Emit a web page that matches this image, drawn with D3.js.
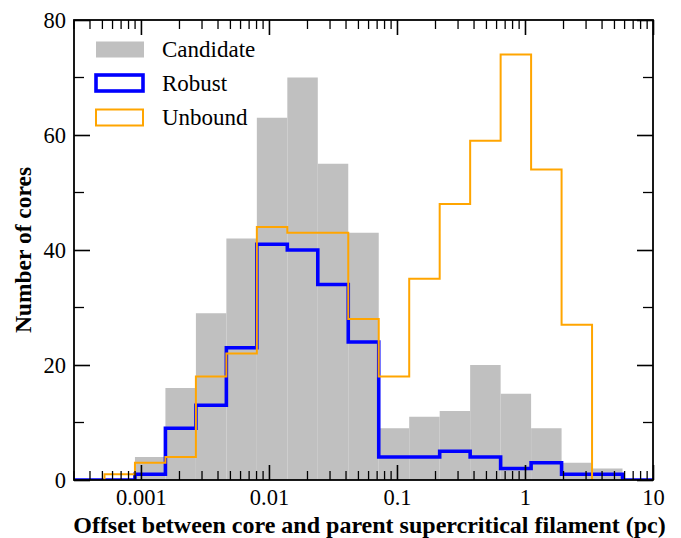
<!DOCTYPE html>
<html>
<head>
<meta charset="utf-8">
<script src="https://cdn.jsdelivr.net/npm/d3@7"></script>
<style>
  body { margin: 0; background: #fff; }
  svg { display: block; font-family: "Liberation Serif", "Times New Roman", serif; }
  svg text { font-family: "Liberation Serif", "Times New Roman", serif; }
</style>
</head>
<body>
<svg width="681" height="538"></svg>
<script>
// histogram edges: 19 log-spaced bins from 3e-4 pc to 10 pc
const binRange = [3e-4, 10];
const nBins = 19;

// counts per bin
const candidate = [0, 0, 4, 16, 29, 42, 63, 70, 55, 43, 9, 11, 12, 20, 15, 9, 3, 2, 0];
const robust    = [0, 0, 1, 9, 13, 23, 41, 40, 34, 24, 4, 4, 5, 4, 2, 3, 1, 1, 0];
const unbound   = [0, 1, 3, 4, 18, 22, 44, 43, 43, 28, 18, 35, 48, 59, 74, 54, 27, 0, 0];

const xMajor = [0.001, 0.01, 0.1, 1, 10];
const xMajorLabels = ["0.001", "0.01", "0.1", "1", "10"];
const yMajor = [0, 20, 40, 60, 80];
const yMinor = [10, 30, 50, 70];

const margin = {top: 20, right: 28, bottom: 58, left: 74};
const width = 681, height = 538;
const serif = '"Liberation Serif", "Times New Roman", serif';

const lo = Math.log10(binRange[0]), hi = Math.log10(binRange[1]);
const edges = d3.range(nBins + 1).map(i => Math.pow(10, lo + i * (hi - lo) / nBins));

const x = d3.scaleLog().domain(binRange).range([margin.left, width - margin.right]);
const y = d3.scaleLinear().domain([0, 80]).range([height - margin.bottom, margin.top]);

const svg = d3.select("svg");

svg.append("clipPath").attr("id", "clip")
  .append("rect")
    .attr("x", x.range()[0]).attr("y", y.range()[1])
    .attr("width", x.range()[1] - x.range()[0])
    .attr("height", y.range()[0] - y.range()[1]);

const plot = svg.append("g").attr("clip-path", "url(#clip)");

// candidate filled bars
plot.append("g")
  .selectAll("rect")
  .data(candidate.map((c, i) => ({c, i})).filter(d => d.c > 0))
  .join("rect")
    .attr("x", d => x(edges[d.i]))
    .attr("y", d => y(d.c))
    .attr("width", d => x(edges[d.i + 1]) - x(edges[d.i]))
    .attr("height", d => y(0) - y(d.c))
    .attr("fill", "#c0c0c0");

function stepPath(counts, first, last) {
  const pts = [[x(edges[first]), y(0)]];
  for (let i = first; i <= last; i++) {
    pts.push([x(edges[i]), y(counts[i])]);
    pts.push([x(edges[i + 1]), y(counts[i])]);
  }
  pts.push([x(edges[last + 1]), y(0)]);
  return d3.line()(pts);
}

plot.append("path")
  .attr("d", stepPath(robust, 0, nBins - 1))
  .attr("fill", "none")
  .attr("stroke", "#0000ff")
  .attr("stroke-width", 3.6)
  .attr("stroke-linejoin", "miter");

plot.append("path")
  .attr("d", stepPath(unbound, 1, 16))
  .attr("fill", "none")
  .attr("stroke", "#ffa500")
  .attr("stroke-width", 2)
  .attr("stroke-linejoin", "miter");

// axes with inward ticks on all four sides
const xMinor = [];
for (let e = -4; e < 1; e++) for (let m = 2; m <= 9; m++) {
  const v = m * Math.pow(10, e);
  if (v > binRange[0] && v < binRange[1]) xMinor.push(v);
}

const bottomAxis = d3.axisBottom(x).tickValues(xMajor).tickFormat((d, i) => xMajorLabels[i]).tickSize(-15).tickPadding(9).tickSizeOuter(0);
const topAxis = d3.axisTop(x).tickValues(xMajor).tickFormat("").tickSize(-15).tickSizeOuter(0);
const leftAxis = d3.axisLeft(y).tickValues(yMajor).tickSize(-16).tickPadding(8).tickSizeOuter(0);
const rightAxis = d3.axisRight(y).tickValues(yMajor).tickFormat("").tickSize(-16).tickSizeOuter(0);

function styleAxis(g) {
  g.attr("font-family", serif).attr("font-size", null);
  g.select(".domain").remove();
  g.selectAll(".tick line").attr("stroke", "#000").attr("stroke-width", 1.6);
  g.selectAll(".tick text")
    .attr("font-size", 22.5).attr("fill", "#000")
    .style("font-family", serif);
}

svg.append("g").attr("transform", `translate(0,${y(0)})`).call(bottomAxis).call(styleAxis);
svg.append("g").attr("transform", `translate(0,${y(80)})`).call(topAxis).call(styleAxis);
svg.append("g").attr("transform", `translate(${x.range()[0]},0)`).call(leftAxis).call(styleAxis)
  .selectAll(".tick text").attr("dy", "0.35em");
svg.append("g").attr("transform", `translate(${x.range()[1]},0)`).call(rightAxis).call(styleAxis);

// minor ticks
const minor = svg.append("g").attr("stroke", "#000").attr("stroke-width", 1.3);
minor.selectAll(".xb").data(xMinor).join("line")
  .attr("x1", d => x(d)).attr("x2", d => x(d)).attr("y1", y(0)).attr("y2", y(0) - 9);
minor.selectAll(".xt").data(xMinor).join("line")
  .attr("x1", d => x(d)).attr("x2", d => x(d)).attr("y1", y(80)).attr("y2", y(80) + 9);
minor.selectAll(".yl").data(yMinor).join("line")
  .attr("y1", d => y(d)).attr("y2", d => y(d)).attr("x1", x.range()[0]).attr("x2", x.range()[0] + 10);
minor.selectAll(".yr").data(yMinor).join("line")
  .attr("y1", d => y(d)).attr("y2", d => y(d)).attr("x1", x.range()[1]).attr("x2", x.range()[1] - 10);

// frame
svg.append("rect")
  .attr("x", x.range()[0]).attr("y", y.range()[1])
  .attr("width", x.range()[1] - x.range()[0])
  .attr("height", y.range()[0] - y.range()[1])
  .attr("fill", "none").attr("stroke", "#000").attr("stroke-width", 1.8);

// axis titles
svg.append("text")
  .attr("x", (x.range()[0] + x.range()[1]) / 2 + 6)
  .attr("y", 533)
  .attr("text-anchor", "middle")
  .attr("font-size", 24).attr("font-weight", "bold")
  .style("font-family", serif)
  .text("Offset between core and parent supercritical filament (pc)");

svg.append("text")
  .attr("transform", `translate(31,${(y.range()[0] + y.range()[1]) / 2}) rotate(-90)`)
  .attr("text-anchor", "middle")
  .attr("font-size", 23.5).attr("font-weight", "bold")
  .style("font-family", serif)
  .text("Number of cores");

// legend
const legend = svg.append("g").attr("font-size", 23);
legend.append("rect").attr("x", 96).attr("y", 41.5).attr("width", 48).attr("height", 16).attr("fill", "#c0c0c0");
legend.append("rect").attr("x", 96).attr("y", 75).attr("width", 47).attr("height", 16)
  .attr("fill", "none").attr("stroke", "#0000ff").attr("stroke-width", 3.6);
legend.append("rect").attr("x", 96).attr("y", 109.5).attr("width", 47).attr("height", 16)
  .attr("fill", "none").attr("stroke", "#ffa500").attr("stroke-width", 2);
[["Candidate", 57], ["Robust", 91], ["Unbound", 125]].forEach(([t, by]) => {
  legend.append("text").attr("x", 162).attr("y", by).style("font-family", serif).text(t);
});
</script>
</body>
</html>
